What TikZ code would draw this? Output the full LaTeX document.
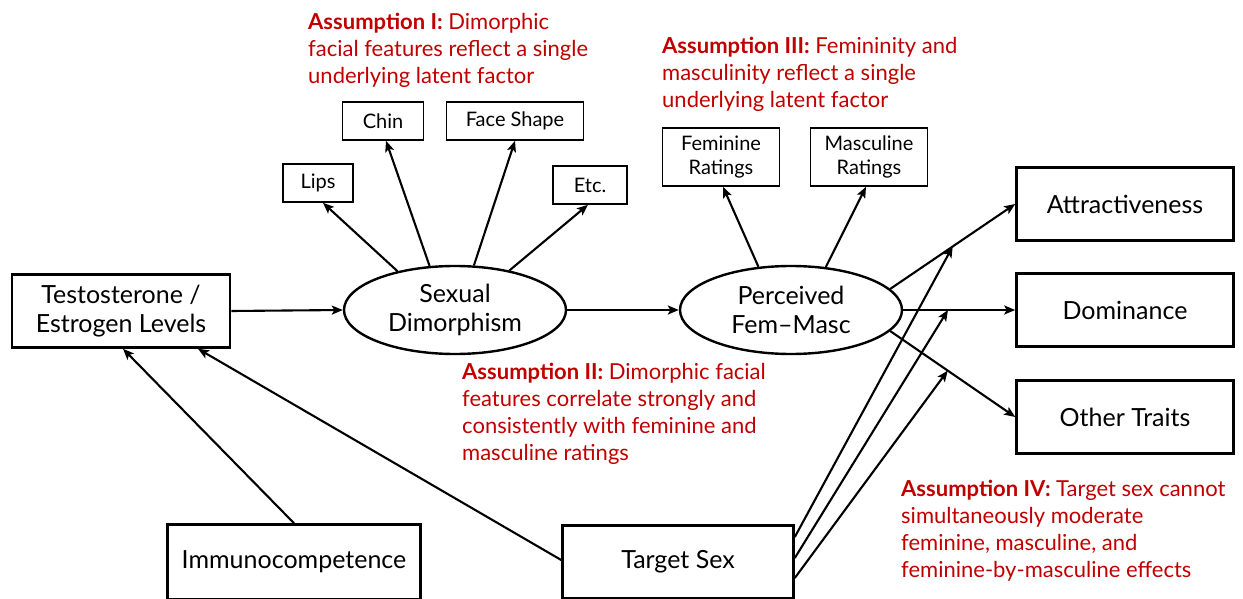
\documentclass[tikz,border=0pt]{standalone}
\usepackage{fontspec}
\setmainfont{Lato}
\usetikzlibrary{arrows.meta,shapes.geometric}
\definecolor{asmred}{HTML}{C00000}
\tikzset{
  bigbox/.style={rectangle, draw, line width=2.6pt, minimum width=217pt, minimum height=73pt, inner sep=0pt, align=center, font=\fontsize{25}{29}\selectfont},
  smallbox/.style={rectangle, draw, line width=1.6pt, minimum height=38pt, inner sep=0pt, align=center, font=\fontsize{20}{24}\selectfont},
  latent/.style={ellipse, draw, line width=2.4pt, minimum width=222pt, minimum height=88pt, inner sep=0pt, align=center, font=\fontsize{25}{29}\selectfont},
  note/.style={anchor=north west, inner sep=0pt, align=left, text=asmred, font=\fontsize{22}{27}\selectfont},
  arr/.style={-{Stealth[length=11pt,width=9pt,inset=2.5pt]}, line width=2.1pt}
}
\begin{document}
\begin{tikzpicture}[x=1pt, y=-1pt]
    \useasboundingbox (0,0) rectangle (1243,599);

        % Vertices
        \node[bigbox, minimum width=218pt](hormones) at (121,311){Testosterone /\\Estrogen Levels};
        \node[latent](sexdim) at (455,310){Sexual\\Dimorphism};
        \node[latent](femmasc) at (791,310){Perceived\\Fem--Masc};
        \node[bigbox](attract) at (1125,204){Attractiveness};
        \node[bigbox](dominance) at (1125,310){Dominance};
        \node[bigbox](traits) at (1125,417){Other Traits};
        \node[bigbox, minimum width=253pt, minimum height=75pt](immuno) at (294,562){Immunocompetence};
        \node[bigbox, minimum width=231pt](target) at (678,562){Target Sex};
        \node[smallbox, minimum width=70pt](lips) at (318,183){Lips};
        \node[smallbox, minimum width=81pt](chin) at (383,121){Chin};
        \node[smallbox, minimum width=137pt](face) at (515,121){Face Shape};
        \node[smallbox, minimum width=74pt](etc) at (590,185){Etc.};
        \node[smallbox, minimum width=117pt, minimum height=58pt](femrat) at (721,157){Feminine\\Ratings};
        \node[smallbox, minimum width=117pt, minimum height=58pt](mascrat) at (869,157){Masculine\\Ratings};

        % Assumptions
        \node[note](asmI) at (308,13){\textbf{Assumption I:} Dimorphic\\facial features reflect a single\\underlying latent factor};
        \node[note](asmIII) at (662,37){\textbf{Assumption III:} Femininity and\\masculinity reflect a single\\underlying latent factor};
        \node[note](asmII) at (462,363){\textbf{Assumption II:} Dimorphic facial\\features correlate strongly and\\consistently with feminine and\\masculine ratings};
        \node[note](asmIV) at (901,480){\textbf{Assumption IV:} Target sex cannot\\simultaneously moderate\\feminine, masculine, and\\feminine-by-masculine effects};

        % Edges
        \draw[arr](hormones.east) -- (sexdim.west);
        \draw[arr](sexdim.east) -- (femmasc.west);
        \draw[arr](sexdim.146) -- (lips.south -| 323,0);
        \draw[arr](sexdim.120) -- (chin.south -| 386,0);
        \draw[arr](sexdim.67) -- (face.south);
        \draw[arr](sexdim.36) -- (etc.south -| 588,0);
        \draw[arr](femmasc.127) -- (femrat.south -| 723,0);
        \draw[arr](femmasc.51) -- (mascrat.south -| 866,0);
        \draw[arr](femmasc.12.5) -- coordinate[pos=0.5](modA) (attract.west);
        \draw[arr](femmasc.east) -- coordinate[pos=0.4](modD) (dominance.west);
        \draw[arr](femmasc.-12) -- coordinate[pos=0.46](modO) (traits.west);
        \draw[arr](immuno.north) -- (hormones.south -| 123,0);
        \draw[arr](target.west |- 0,560) -- (hormones.south -| 198,0);
        \draw[arr](target.east |- 0,537) -- (modA);
        \draw[arr](target.east |- 0,558) -- (modD);
        \draw[arr](target.east |- 0,578) -- (modO);

\end{tikzpicture}
\end{document}
